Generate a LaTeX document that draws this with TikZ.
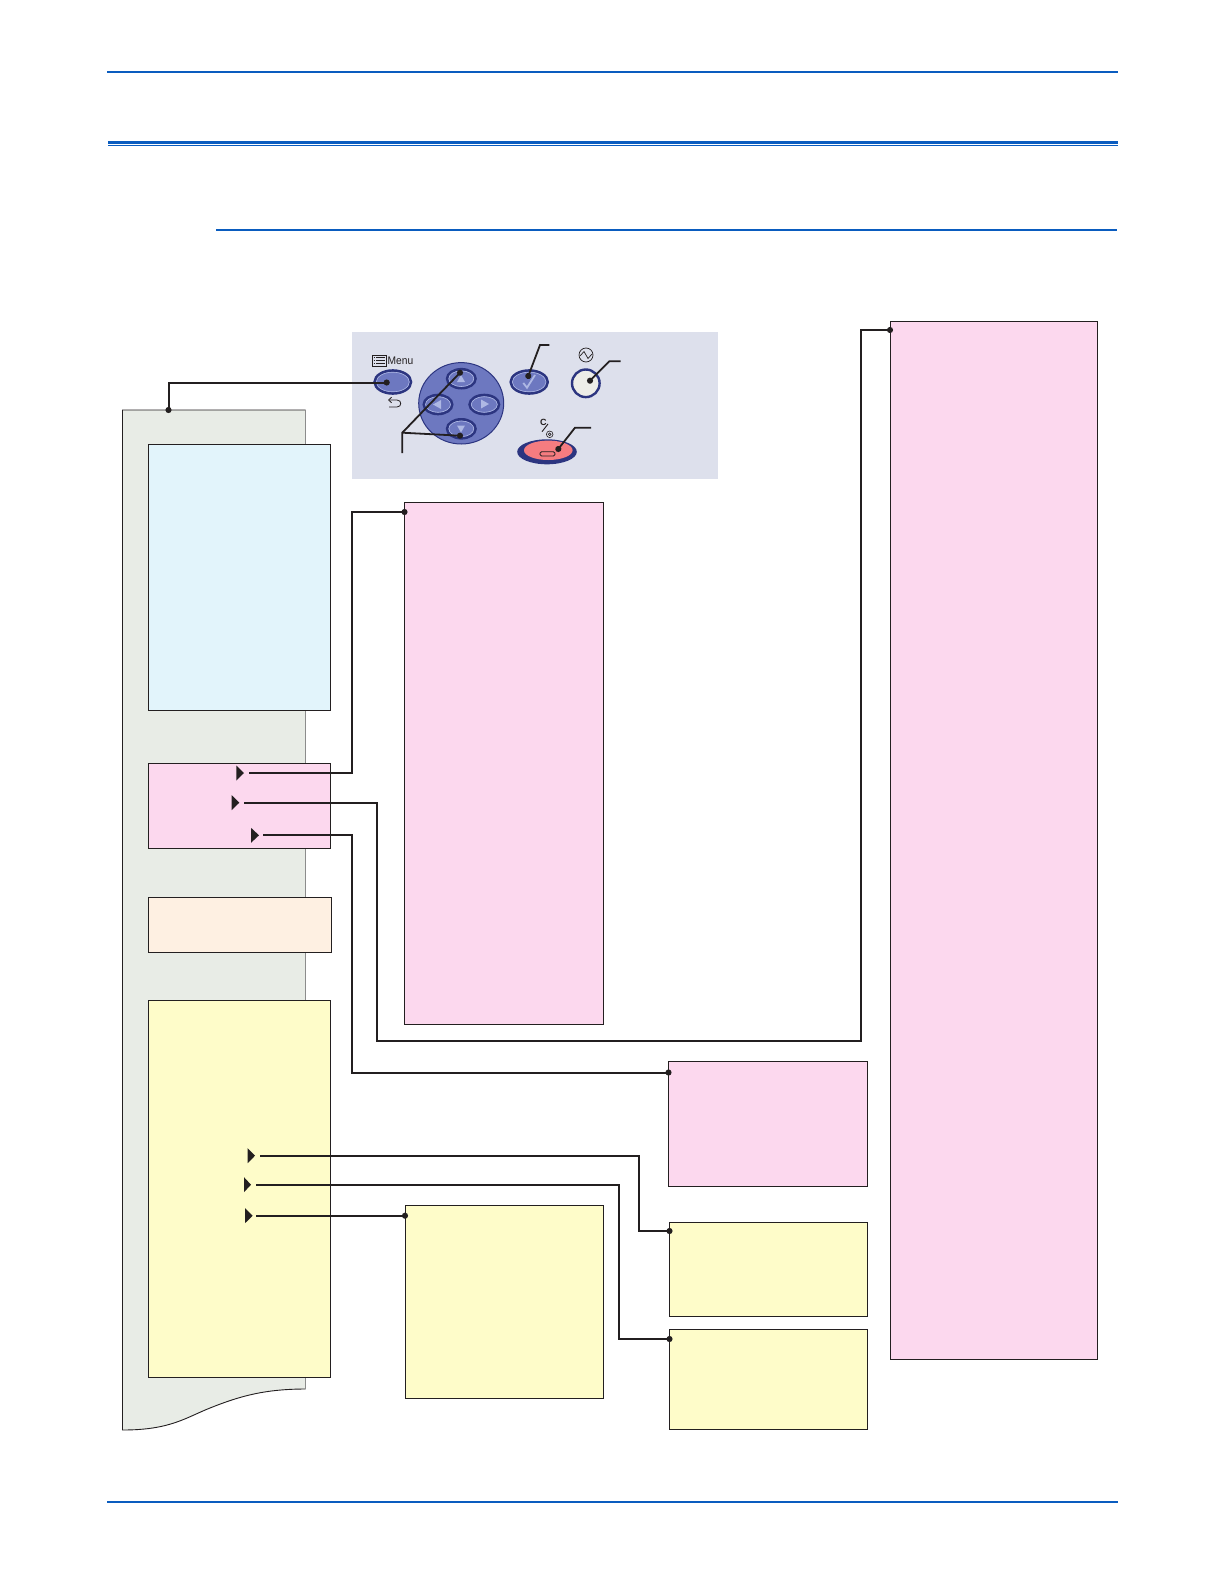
\documentclass[tikz,border=0pt]{standalone}
\usepackage{fontspec}
\setmainfont{Liberation Sans}
\usetikzlibrary{arrows.meta,calc}
\definecolor{ink}{HTML}{231F20}
\definecolor{rulec}{HTML}{0A5CBF}
\definecolor{sheetc}{HTML}{E8ECE6}
\definecolor{bluec}{HTML}{E2F4FB}
\definecolor{pinkc}{HTML}{FCD8EE}
\definecolor{creamc}{HTML}{FEF0E2}
\definecolor{yellowc}{HTML}{FEFCC9}
\definecolor{panelc}{HTML}{DDE0EC}
\definecolor{dialc}{HTML}{6D78C0}
\definecolor{darkb}{HTML}{2C3580}
\definecolor{triw}{HTML}{AEB8E4}
\definecolor{redc}{HTML}{F57C80}
\definecolor{whitec}{HTML}{EDEDE8}
\tikzset{
  x=1pt,y=-1pt,
  rulel/.style={draw=rulec,line width=2pt},
  conn/.style={draw=ink,line width=2pt,-{Circle[length=6pt,width=6pt]},shorten >=-3pt},
  lead/.style={draw=ink,line width=1.8pt,line join=miter},
  leaddot/.style={lead,{Circle[length=6pt,width=6pt]}-,shorten <=-3pt},
  tri/.style={fill=ink},
  bx/.style={draw=ink,line width=0.9pt},
}
\newcommand{\bxn}[6]{\node[bx,fill=#6,inner sep=0pt,outer sep=0pt,minimum width={(#4-#2-0.9)*1pt},minimum height={(#5-#3)*1pt},anchor=north west] (#1) at (#2,#3) {};}
\newcommand{\trg}[3]{\fill[tri] (#1,#3-7.5) -- (#2,#3) -- (#1,#3+7.5) -- cycle;}
\newcommand{\ebt}[4]{\filldraw[draw=darkb,line width=2.6pt,fill=dialc] (#1,#2) ellipse [x radius=#3pt-0.3pt,y radius=#4pt-0.3pt];
  \draw[triw,line width=0.6pt] (#1,#2) ellipse [x radius=#3pt-2pt,y radius=#4pt-2pt];}
\begin{document}
\begin{tikzpicture}
\useasboundingbox (0,0) rectangle (1224,1584);
\fill[white] (0,0) rectangle (1224,1584);
% page rules
\coordinate (r1a) at (107,72); \coordinate (r1b) at (1118,72);
\draw[rulel] (r1a) -- (r1b);
\coordinate (r2a) at (108,142.5); \coordinate (r2b) at (1118,142.5);
\draw[rulec,line width=3pt] (r2a) -- (r2b);
\coordinate (r2c) at (108,145.8); \coordinate (r2d) at (1118,145.8);
\draw[rulec,line width=0.9pt] (r2c) -- (r2d);
\coordinate (r3a) at (216,229.7); \coordinate (r3b) at (1117,229.7);
\draw[rulel] (r3a) -- (r3b);
\coordinate (r4a) at (107,1501.5); \coordinate (r4b) at (1118,1501.5);
\draw[rulel] (r4a) -- (r4b);
% sheet
\fill[sheetc] (122.5,410) -- (305.7,410) -- (305.7,1389) .. controls (265,1389) and (240,1396) .. (210,1408) .. controls (185,1418) and (170,1430) .. (122.5,1430) -- cycle;
\draw[ink,line width=0.9pt] (305.7,410) -- (122.5,410) -- (122.5,1430) .. controls (170,1430) and (185,1418) .. (210,1408) .. controls (240,1396) and (265,1389) .. (305.7,1389);
\draw[black!45,line width=1pt] (305.7,410) -- (305.7,1389);
\coordinate (sheettop) at (168.5,410);
% boxes
\bxn{bluebox}{148.5}{444}{331}{710}{bluec}
\bxn{pinksmall}{148.5}{763.5}{331}{848.5}{pinkc}
\bxn{creambox}{148.5}{897.5}{332}{952.5}{creamc}
\bxn{yellowbig}{148.5}{1000}{331}{1377}{yellowc}
\bxn{pinktall}{404.5}{502}{604}{1024}{pinkc}
\bxn{pinkright}{890}{321}{1098}{1359}{pinkc}
\bxn{pinkmid}{668.5}{1061.5}{868}{1186}{pinkc}
\bxn{yellowa}{669.5}{1222}{868.5}{1316}{yellowc}
\bxn{yellowd}{669.5}{1329}{868}{1429}{yellowc}
\bxn{yellowe}{405}{1205}{604}{1398}{yellowc}
% panel
\fill[panelc] (352,332) rectangle (718,479);
% menu icon and text
\draw[ink,line width=0.8pt] (372,355) rectangle (386,366);
\foreach \yy in {357.5,360.5,363.5}{\draw[ink,line width=0.9pt] (376,\yy) -- (384.5,\yy); \draw[ink,line width=0.9pt] (373.5,\yy) -- (375,\yy);}
\node[inner sep=0pt,text=ink,font=\fontsize{11}{12}\selectfont] (menulabel) at (400.5,361) {\scalebox{.93}[1]{Menu}};
% return arrow below menu
\draw[ink,line width=0.8pt,-{Straight Barb[length=3pt,width=5.5pt]}] (389,407) -- (397,407) .. controls (402,407) and (402,400) .. (397,400) -- (388,400);
% buttons
\ebt{392.8}{382}{18.5}{11.8}
% dial
\filldraw[draw=darkb,line width=1pt,fill=dialc] (461.2,403.3) ellipse [x radius=42.5pt,y radius=40.7pt];
\ebt{461.3}{378.7}{14.5}{9.8}
\ebt{438}{404.5}{14.5}{9.8}
\ebt{484.3}{404.5}{15}{9.8}
\ebt{461.3}{428.8}{14.5}{9.8}
\fill[triw] (461,375) -- (465,382) -- (457,382) -- cycle;
\fill[triw] (461,432.5) -- (465,425.5) -- (457,425.5) -- cycle;
\fill[triw] (433,404.5) -- (441,400) -- (441,409) -- cycle;
\fill[triw] (489,404) -- (481,399.5) -- (481,408.5) -- cycle;
% ok
\ebt{529.2}{382}{18.8}{11.8}
\draw[triw,line width=1.8pt] (523.3,383) -- (527,387.7) -- (535,375);
% power
\filldraw[draw=darkb,line width=2.4pt,fill=whitec] (585.8,383.3) circle [radius=13.8pt];
\draw[ink,line width=0.7pt] (586,355) circle [radius=7pt];
\draw[ink,line width=0.7pt] (580,356) -- (584,351.5) -- (588,358.5) -- (592,354);
% clear
\filldraw[draw=none,fill=darkb] (547,451.8) ellipse [x radius=29.8pt,y radius=12.5pt];
\filldraw[draw=none,fill=redc] (548.3,450.3) ellipse [x radius=24.3pt,y radius=9.7pt];
\draw[ink,line width=0.8pt,rounded corners=1.5pt] (540,451.7) rectangle (555,456);
\node[inner sep=0pt,text=ink,font=\bfseries\fontsize{9}{10}\selectfont] (clabel) at (543.3,422.7) {C};
\draw[ink,line width=0.9pt] (542,431.7) -- (548,424);
\draw[ink,line width=0.6pt] (549.7,434.3) circle [radius=3.3pt];
\draw[ink,line width=0.6pt] (549.7,434.3) circle [radius=1.4pt];
% leaders
\coordinate (okb) at (528.3,376); \coordinate (oka) at (540,345); \coordinate (okc) at (549.3,345);
\draw[leaddot] (okb) -- (oka) -- (okc);
\coordinate (pwb) at (590,380.7); \coordinate (pwa) at (609.3,361.3); \coordinate (pwc) at (620.7,361.3);
\draw[leaddot] (pwb) -- (pwa) -- (pwc);
\coordinate (clb) at (558.3,449); \coordinate (cla) at (575,427.7); \coordinate (clc) at (591,427.7);
\draw[leaddot] (clb) -- (cla) -- (clc);
\coordinate (upb) at (460,372.7); \coordinate (dnb) at (460,435.7); \coordinate (fork) at (402.3,432.7); \coordinate (forke) at (402.3,453);
\draw[leaddot] (upb) -- (fork) -- (forke);
\draw[leaddot] (dnb) -- (fork);
% menu connector
\coordinate (menub) at (386.7,382.5);
\draw[conn,{Circle[length=6pt,width=6pt]}-{Circle[length=6pt,width=6pt]},shorten <=-3pt] (menub) -| (sheettop);
% triangles
\trg{236.3}{244}{773}
\trg{231.7}{239.3}{802.7}
\trg{251}{259}{835.3}
\trg{247.7}{255}{1155.7}
\trg{244}{251}{1184.7}
\trg{245}{252.7}{1215.7}
% connectors
\coordinate (a1) at (249,772.7); \coordinate (a1j) at (352,512); \coordinate (a1e) at (pinktall.west |- a1j);
\draw[conn] (a1) -| (a1j) -- (a1e);
\coordinate (a2) at (244,802.7); \coordinate (a2j) at (377.3,1041); \coordinate (a2k) at (860.5,330); \coordinate (a2e) at (pinkright.west |- a2k);
\draw[conn] (a2) -| (a2j) -| (a2k) -- (a2e);
\coordinate (a3) at (263.3,835.3); \coordinate (a3j) at (352,1072.5); \coordinate (a3e) at (pinkmid.west |- a3j);
\draw[conn] (a3) -| (a3j) -- (a3e);
\coordinate (b1) at (260,1155.7); \coordinate (b1j) at (639.3,1231); \coordinate (b1e) at (yellowa.west |- b1j);
\draw[conn] (b1) -| (b1j) -- (b1e);
\coordinate (b2) at (256,1184.7); \coordinate (b2j) at (619,1339); \coordinate (b2e) at (yellowd.west |- b2j);
\draw[conn] (b2) -| (b2j) -- (b2e);
\coordinate (b3) at (256,1215.7); \coordinate (b3e) at (yellowe.west |- b3);
\draw[conn] (b3) -- (b3e);
\end{tikzpicture}
\end{document}
